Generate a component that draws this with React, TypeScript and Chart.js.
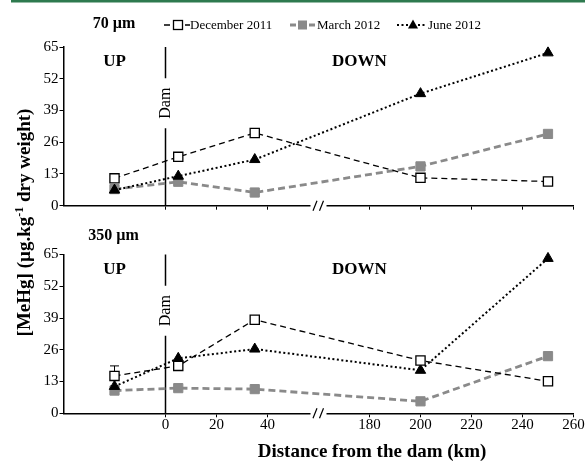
import React, { useEffect, useRef } from 'react';
import { Chart, registerables } from 'chart.js';

Chart.register(...registerables);

// ---------- data ----------
const distancesKm = [-20, 5, 35, 200, 250];
const dec70 = [11.2, 20.0, 29.8, 11.4, 9.9];
const mar70 = [6.8, 9.8, 5.4, 16.1, 29.4];
const jun70 = [6.4, 12.1, 18.9, 45.9, 62.6];
const dec350 = [15.3, 19.4, 38.3, 21.6, 13.1];
const mar350 = [9.3, 10.3, 9.9, 4.9, 23.4];
const jun350 = [11.0, 22.5, 26.3, 17.6, 63.4];
const dec350Err = [4.1, 0, 0, 0, 0];
const seriesNames = ['December 2011', 'March 2012', 'June 2012'];
const panelNames = ['70 µm', '350 µm'];
const xTickKm = [0, 20, 40, 180, 200, 220, 240, 260];
const yTickValues = [0, 13, 26, 39, 52, 65];
const regionNames = ['UP', 'DOWN'];
const regionX = [-20, 76]; // axis units
const regionY = 59;
const damLabel = 'Dam';
const damLabelY = 42;
const xTitle = 'Distance from the dam (km)';
const yTitleParts = ['[MeHg] (µg.kg', '-1', ' dry weight)'];

// axis break: km beyond the break are shifted left by AXIS_SHIFT
const AXIS_SHIFT = 100;
const BREAK_AT = 60;
const toAxis = (km: number) => (km > BREAK_AT ? km - AXIS_SHIFT : km);
const fromAxis = (v: number) => (v > BREAK_AT ? v + AXIS_SHIFT : v);

// ---------- styles ----------
const FONT = '"Liberation Serif", "Times New Roman", serif';
const GRAY = '#8a8a8a';
const GREEN = '#2e7a4f';
const W = 585;
const H = 463;

const pts = (vals: number[]) => distancesKm.map((d, i) => ({ x: toAxis(d), y: vals[i] }));

function makeDatasets(dec: number[], mar: number[], jun: number[]) {
  return [
    {
      label: seriesNames[0], data: pts(dec), order: 0, clip: false as any,
      borderColor: '#000', borderWidth: 1.3, borderDash: [6, 4],
      pointStyle: 'rect', pointRadius: 6.5, pointBackgroundColor: '#fff',
      pointBorderColor: '#000', pointBorderWidth: 1.3,
    },
    {
      label: seriesNames[2], data: pts(jun), order: 1, clip: false as any,
      borderColor: '#000', borderWidth: 2, borderDash: [2, 2.5],
      pointStyle: 'triangle', pointRadius: 6, pointBackgroundColor: '#000',
      pointBorderColor: '#000', pointBorderWidth: 1,
    },
    {
      label: seriesNames[1], data: pts(mar), order: 2, clip: false as any,
      borderColor: GRAY, borderWidth: 2.8, borderDash: [7, 4],
      pointStyle: 'rect', pointRadius: 6.5, pointBackgroundColor: GRAY,
      pointBorderColor: GRAY, pointBorderWidth: 1,
    },
  ];
}

function makeOptions(isBottom: boolean): any {
  const areaTop = isBottom ? 254.5 : 47;
  const areaBottom = isBottom ? 413.3 : 205.7;
  const xH = isBottom ? 30 : 10;
  return {
    responsive: false,
    animation: false,
    events: [],
    layout: { padding: { left: 0, right: 11.5, top: areaTop, bottom: H - areaBottom - xH } },
    plugins: { legend: { display: false }, tooltip: { enabled: false }, title: { display: false } },
    scales: {
      x: {
        type: 'linear', min: -40, max: 160,
        border: { display: true, color: '#000', width: 1.5 },
        grid: { display: true, drawOnChartArea: false, drawTicks: true, tickLength: 4, color: '#000', lineWidth: 1 },
        afterBuildTicks: (s: any) => { s.ticks = xTickKm.map((k) => ({ value: toAxis(k) })); },
        afterFit: (s: any) => { s.height = xH; },
        ticks: {
          display: isBottom, autoSkip: false, maxRotation: 0, minRotation: 0, padding: -1,
          color: '#000', font: { family: FONT, size: 15 },
          callback: (v: any) => String(fromAxis(Number(v))),
        },
      },
      y: {
        min: 0, max: 65,
        border: { display: true, color: '#000', width: 1.5 },
        grid: { display: true, drawOnChartArea: false, drawTicks: true, tickLength: 4, color: '#000', lineWidth: 1 },
        afterBuildTicks: (s: any) => { s.ticks = yTickValues.map((v) => ({ value: v })); },
        afterFit: (s: any) => { s.width = 63.5; },
        ticks: { padding: 1, color: '#000', font: { family: FONT, size: 15 } },
      },
    },
  };
}

// ---------- drawing helpers ----------
function drawDam(chart: any) {
  const { ctx, chartArea, scales } = chart;
  const x = scales.x.getPixelForValue(0);
  const yc = scales.y.getPixelForValue(damLabelY);
  const gap = 25;
  ctx.save();
  ctx.strokeStyle = '#000';
  ctx.lineWidth = 1.5;
  ctx.beginPath();
  ctx.moveTo(x, chartArea.top);
  ctx.lineTo(x, yc - gap);
  ctx.moveTo(x, yc + gap);
  ctx.lineTo(x, chartArea.bottom);
  ctx.stroke();
  ctx.translate(x, yc);
  ctx.rotate(-Math.PI / 2);
  ctx.fillStyle = '#000';
  ctx.font = `16px ${FONT}`;
  ctx.textAlign = 'center';
  ctx.textBaseline = 'middle';
  ctx.fillText(damLabel, 0, 0);
  ctx.restore();
}

function drawRegions(chart: any) {
  const { ctx, scales } = chart;
  ctx.save();
  ctx.fillStyle = '#000';
  ctx.font = `bold 17px ${FONT}`;
  ctx.textAlign = 'center';
  ctx.textBaseline = 'middle';
  regionNames.forEach((n, i) => {
    ctx.fillText(n, scales.x.getPixelForValue(regionX[i]), scales.y.getPixelForValue(regionY));
  });
  ctx.restore();
}

function drawBreak(chart: any) {
  const { ctx, chartArea, scales } = chart;
  const x = scales.x.getPixelForValue(BREAK_AT);
  const y = chartArea.bottom;
  ctx.save();
  ctx.fillStyle = '#fff';
  ctx.fillRect(x - 8, y - 2.5, 16, 5);
  ctx.strokeStyle = '#000';
  ctx.lineWidth = 1.2;
  ctx.beginPath();
  ctx.moveTo(x - 5.5, y + 5);
  ctx.lineTo(x - 1.5, y - 5);
  ctx.moveTo(x + 1, y + 5);
  ctx.lineTo(x + 5, y - 5);
  ctx.stroke();
  ctx.restore();
}

function drawErrors(chart: any, vals: number[], errs: number[]) {
  const { ctx, scales } = chart;
  ctx.save();
  ctx.strokeStyle = '#000';
  ctx.lineWidth = 1;
  errs.forEach((e, i) => {
    if (!e) return;
    const x = scales.x.getPixelForValue(toAxis(distancesKm[i]));
    const y1 = scales.y.getPixelForValue(vals[i] + e);
    const y2 = scales.y.getPixelForValue(vals[i] - e);
    ctx.beginPath();
    ctx.moveTo(x, y1);
    ctx.lineTo(x, y2);
    ctx.moveTo(x - 4.5, y1);
    ctx.lineTo(x + 4.5, y1);
    ctx.moveTo(x - 4.5, y2);
    ctx.lineTo(x + 4.5, y2);
    ctx.stroke();
  });
  ctx.restore();
}

function drawLegend(ctx: CanvasRenderingContext2D) {
  const y = 25;
  ctx.save();
  // December
  ctx.strokeStyle = '#000';
  ctx.lineWidth = 1.3;
  ctx.beginPath();
  ctx.moveTo(164, y); ctx.lineTo(170, y);
  ctx.moveTo(185, y); ctx.lineTo(190, y);
  ctx.stroke();
  ctx.fillStyle = '#fff';
  ctx.fillRect(173.5, y - 4.5, 9, 9);
  ctx.strokeRect(173.5, y - 4.5, 9, 9);
  // March
  ctx.strokeStyle = GRAY;
  ctx.lineWidth = 2.8;
  ctx.beginPath();
  ctx.moveTo(290, y); ctx.lineTo(296, y);
  ctx.moveTo(309, y); ctx.lineTo(315, y);
  ctx.stroke();
  ctx.fillStyle = GRAY;
  ctx.fillRect(298, y - 4.5, 9, 9);
  // June
  ctx.strokeStyle = '#000';
  ctx.lineWidth = 2;
  ctx.setLineDash([2, 2.5]);
  ctx.beginPath();
  ctx.moveTo(397, y); ctx.lineTo(408, y);
  ctx.moveTo(418, y); ctx.lineTo(427, y);
  ctx.stroke();
  ctx.setLineDash([]);
  ctx.fillStyle = '#000';
  ctx.beginPath();
  ctx.moveTo(413, y - 5.5);
  ctx.lineTo(418, y + 3.5);
  ctx.lineTo(408, y + 3.5);
  ctx.closePath();
  ctx.fill();
  // texts
  ctx.fillStyle = '#000';
  ctx.font = `13px ${FONT}`;
  ctx.textAlign = 'left';
  ctx.textBaseline = 'middle';
  ctx.fillText(seriesNames[0], 190, y + 0.5);
  ctx.fillText(seriesNames[1], 317, y + 0.5);
  ctx.fillText(seriesNames[2], 428, y + 0.5);
  ctx.restore();
}

function drawPanelLabel(ctx: CanvasRenderingContext2D, text: string, x: number, y: number) {
  ctx.save();
  ctx.fillStyle = '#000';
  ctx.font = `bold 16px ${FONT}`;
  ctx.textAlign = 'left';
  ctx.textBaseline = 'middle';
  ctx.fillText(text, x, y);
  ctx.restore();
}

function drawTitles(ctx: CanvasRenderingContext2D) {
  ctx.save();
  ctx.fillStyle = '#000';
  ctx.font = `bold 19px ${FONT}`;
  ctx.textAlign = 'center';
  ctx.textBaseline = 'middle';
  ctx.fillText(xTitle, 372, 452);
  // y title with superscript
  const big = `bold 19px ${FONT}`;
  const small = `bold 12px ${FONT}`;
  ctx.font = big;
  const w1 = ctx.measureText(yTitleParts[0]).width;
  const w3 = ctx.measureText(yTitleParts[2]).width;
  ctx.font = small;
  const w2 = ctx.measureText(yTitleParts[1]).width;
  const total = w1 + w2 + w3;
  ctx.translate(30, 222.5);
  ctx.rotate(-Math.PI / 2);
  ctx.textAlign = 'left';
  ctx.textBaseline = 'alphabetic';
  let x = -total / 2;
  ctx.font = big;
  ctx.fillText(yTitleParts[0], x, 0);
  x += w1;
  ctx.font = small;
  ctx.fillText(yTitleParts[1], x, -7.5);
  x += w2;
  ctx.font = big;
  ctx.fillText(yTitleParts[2], x, 0);
  ctx.restore();
}

const topPlugin = {
  id: 'topDecor',
  beforeDatasetsDraw(chart: any) { drawDam(chart); },
  afterDraw(chart: any) {
    const ctx = chart.ctx;
    ctx.save();
    ctx.fillStyle = GREEN;
    ctx.fillRect(11, 0, W - 11, 2.5);
    ctx.restore();
    drawPanelLabel(ctx, panelNames[0], 92.7, 24);
    drawLegend(ctx);
    drawRegions(chart);
    drawBreak(chart);
  },
};

const bottomPlugin = {
  id: 'bottomDecor',
  beforeDatasetsDraw(chart: any) {
    drawDam(chart);
    drawErrors(chart, dec350, dec350Err);
  },
  afterDraw(chart: any) {
    const ctx = chart.ctx;
    drawPanelLabel(ctx, panelNames[1], 88.3, 236);
    drawRegions(chart);
    drawBreak(chart);
    drawTitles(ctx);
  },
};

export default function App() {
  const topRef = useRef<HTMLCanvasElement | null>(null);
  const botRef = useRef<HTMLCanvasElement | null>(null);

  useEffect(() => {
    if (!topRef.current || !botRef.current) return;
    const c1 = new Chart(topRef.current, {
      type: 'line',
      data: { datasets: makeDatasets(dec70, mar70, jun70) as any },
      options: makeOptions(false),
      plugins: [topPlugin],
    });
    const c2 = new Chart(botRef.current, {
      type: 'line',
      data: { datasets: makeDatasets(dec350, mar350, jun350) as any },
      options: makeOptions(true),
      plugins: [bottomPlugin],
    });
    return () => {
      c1.destroy();
      c2.destroy();
    };
  }, []);

  const cstyle: React.CSSProperties = { position: 'absolute', left: 0, top: 0, width: W, height: H };
  return (
    <div style={{ position: 'absolute', left: 0, top: 0, width: W, height: H, background: '#fff' }}>
      <canvas ref={topRef} width={W} height={H} style={cstyle} />
      <canvas ref={botRef} width={W} height={H} style={cstyle} />
    </div>
  );
}
